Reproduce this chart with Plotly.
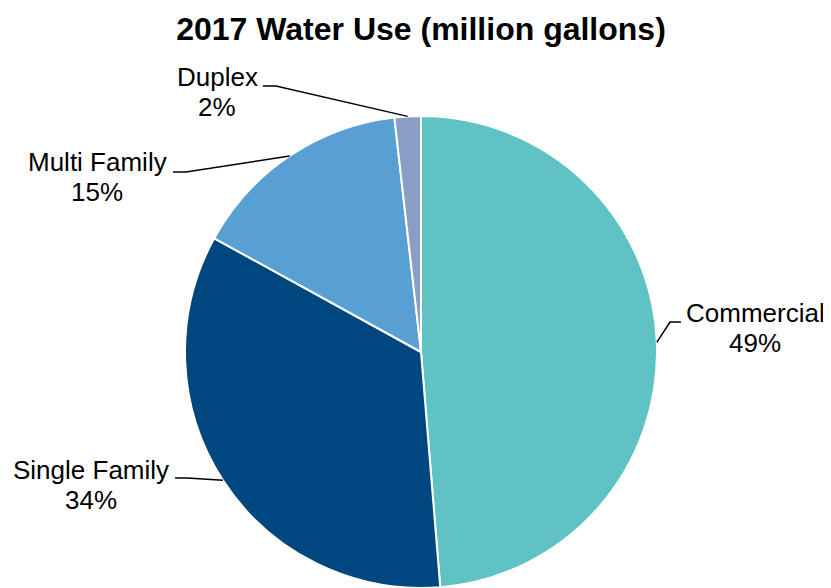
import math
import plotly.graph_objects as go

W, H = 831, 588
PAGE = 8  # default body margin of the html page

# share of 2017 water use by customer class (percent)
categories = ["Commercial", "Single Family", "Multi Family", "Duplex"]
values = [48.7, 34.3, 15.2, 1.8]
colors = ["#5FC2C4", "#00467F", "#58A0D3", "#8A9EC4"]

# pie placement in page pixels
cx, cy, r = 421, 352, 236

# label layout (page pixels): text centre x, name line y, percent line y,
# elbow of the leader line, end of the horizontal stub
label_layout = {
    "Commercial": dict(tx=755, ny=313, py=343, elbow=(670, 322), end=(681, 322)),
    "Single Family": dict(tx=91, ny=470, py=500, elbow=(187, 478), end=(175, 478)),
    "Multi Family": dict(tx=97, ny=162, py=192, elbow=(186, 172), end=(173, 172)),
    "Duplex": dict(tx=217, ny=77, py=107, elbow=(276, 86), end=(263, 86)),
}


def px(x):
    return (x - PAGE) / W


def py(y):
    return 1 - (y - PAGE) / H


fig = go.Figure(go.Pie(
    labels=categories,
    values=values,
    sort=False,
    direction="clockwise",
    rotation=0,
    marker=dict(colors=colors, line=dict(color="#ffffff", width=2)),
    textinfo="none",
    hoverinfo="label+percent",
    showlegend=False,
    domain=dict(x=[px(cx - r), px(cx + r)], y=[py(cy + r), py(cy - r)]),
))

font = dict(family="Liberation Sans, Arial", size=26, color="#000000")
total = sum(values)
cum = 0.0
shapes = []
annotations = []
for name, v in zip(categories, values):
    mid = (cum + v / 2) / total * 2 * math.pi
    cum += v
    ex = cx + r * math.sin(mid)
    ey = cy - r * math.cos(mid)
    lay = label_layout[name]
    (bx, by), (ux, uy) = lay["elbow"], lay["end"]
    shapes.append(dict(
        type="path", xref="paper", yref="paper",
        path=f"M {px(ex)} {py(ey)} L {px(bx)} {py(by)} L {px(ux)} {py(uy)}",
        line=dict(color="#000000", width=1.5),
    ))
    pct = round(v / total * 100)
    for txt, ty in [(name, lay["ny"]), (f"{pct}%", lay["py"])]:
        annotations.append(dict(
            x=px(lay["tx"]), y=py(ty), xref="paper", yref="paper",
            text=txt, showarrow=False, xanchor="center", yanchor="middle",
            font=font,
        ))

fig.update_layout(
    width=W, height=H,
    title=dict(
        text="<b>2017 Water Use (million gallons)</b>",
        x=px(421), xanchor="center", y=py(29), yanchor="middle",
        font=dict(family="Liberation Sans, Arial", size=32, color="#000000"),
    ),
    margin=dict(l=0, r=0, t=0, b=0),
    paper_bgcolor="#ffffff",
    plot_bgcolor="#ffffff",
    shapes=shapes,
    annotations=annotations,
)

fig.write_html("out.html")
